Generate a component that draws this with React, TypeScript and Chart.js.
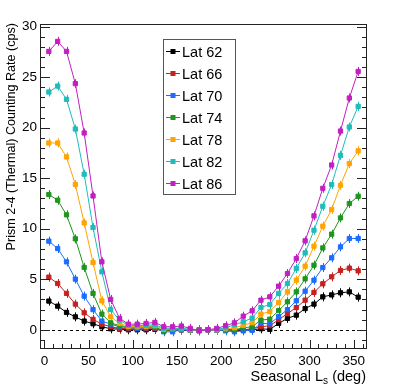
import React, { useEffect, useRef } from 'react';
import { Chart, registerables } from 'chart.js';

Chart.register(...registerables);

// Seasonal Ls bin centres (deg)
const LS = [5, 15, 25, 35, 45, 55, 65, 75, 85, 95, 105, 115, 125, 135, 145, 155, 165, 175,
  185, 195, 205, 215, 225, 235, 245, 255, 265, 275, 285, 295, 305, 315, 325, 335, 345, 355];

const LAT62 = [2.84, 2.34, 1.72, 1.28, 0.86, 0.6, 0.3, 0.1, 0.07, 0.0, 0.0, 0.0, 0.05, -0.05, 0.0, 0.0,
  -0.05, 0.0, 0.0, 0.0, 0.0, -0.05, 0.0, 0.0, 0.1, 0.04, 0.63, 1.13, 1.45, 2.1, 2.54, 3.26, 3.45, 3.66, 3.75, 3.23];
const LAT66 = [5.21, 4.58, 3.6, 2.54, 1.68, 1.03, 0.56, 0.3, 0.14, 0.1, 0.1, 0.1, 0.1, -0.1, -0.05, 0.0,
  0.0, -0.05, 0.0, 0.0, 0.0, 0.0, 0.0, 0.1, 0.3, 0.4, 1.0, 1.6, 2.2, 2.93, 3.7, 4.55, 5.24, 5.87, 6.1, 5.83];
const LAT70 = [8.77, 8.04, 6.72, 5.01, 3.33, 2.0, 0.86, 0.56, 0.3, 0.2, 0.15, 0.2, 0.2, -0.2, -0.2, 0.0,
  -0.05, -0.1, 0.0, -0.05, -0.1, -0.2, -0.1, -0.05, 0.63, 0.6, 1.3, 2.0, 2.87, 3.82, 4.91, 6.16, 7.12, 8.2, 9.03, 9.03];
const LAT74 = [13.38, 12.82, 11.37, 9.0, 6.17, 3.6, 1.55, 0.69, 0.4, 0.3, 0.25, 0.3, 0.3, -0.1, 0.05, 0.05,
  0.0, -0.05, 0.0, 0.0, 0.0, 0.0, 0.2, 0.3, 0.96, 1.05, 1.9, 2.77, 3.75, 5.04, 6.39, 8.1, 9.46, 11.07, 12.49, 13.21];
const LAT78 = [18.48, 18.48, 17.1, 14.37, 10.57, 6.66, 2.87, 1.28, 0.63, 0.35, 0.3, 0.35, 0.4, 0.05, 0.1, 0.1,
  0.0, -0.05, 0.0, 0.0, 0.1, 0.2, 0.45, 0.7, 1.55, 1.8, 2.7, 3.75, 4.91, 6.29, 8.27, 10.25, 11.9, 14.3, 16.44, 17.7];
const LAT82 = [23.52, 24.11, 22.8, 19.86, 15.39, 10.12, 5.73, 2.0, 0.96, 0.45, 0.4, 0.45, 0.5, 0.15, 0.15, 0.15,
  0.05, -0.05, 0.0, 0.05, 0.2, 0.5, 0.8, 1.15, 2.21, 2.5, 3.6, 4.58, 6.07, 7.61, 9.85, 12.22, 14.37, 17.26, 20.06, 22.1];
const LAT86 = [27.54, 28.53, 27.54, 24.35, 19.47, 13.24, 6.72, 3.0, 1.13, 0.56, 0.56, 0.63, 0.73, 0.3, 0.3, 0.37,
  0.14, -0.1, 0.0, 0.14, 0.4, 0.69, 1.35, 1.88, 2.93, 3.26, 4.32, 5.57, 7.05, 8.8, 11.27, 14.0, 16.3, 19.66, 22.93, 25.56];

const SERIES = [LAT62, LAT66, LAT70, LAT74, LAT78, LAT82, LAT86];
const LABELS = ['Lat 62', 'Lat 66', 'Lat 70', 'Lat 74', 'Lat 78', 'Lat 82', 'Lat 86'];
const COLORS = ['#000000', '#c62020', '#1c6cff', '#1f951f', '#ffa400', '#1fbcbc', '#c21fc2'];

const Y_TITLE = 'Prism 2-4 (Thermal) Counting Rate (cps)';
const X_TITLE_MAIN = 'Seasonal L';
const X_TITLE_SUB = 's';
const X_TITLE_END = ' (deg)';

const FONT = '"Liberation Sans", Arial, Helvetica, sans-serif';

const rootPlugin = {
  id: 'rootStyle',
  beforeDatasetsDraw(chart: any) {
    const { ctx, chartArea: a, scales } = chart;
    const y = scales.y;
    ctx.save();
    // dashed zero line
    ctx.strokeStyle = '#000';
    ctx.lineWidth = 1;
    ctx.setLineDash([3, 3]);
    const y0 = Math.round(y.getPixelForValue(0)) + 0.5;
    ctx.beginPath();
    ctx.moveTo(a.left, y0);
    ctx.lineTo(a.right, y0);
    ctx.stroke();
    ctx.setLineDash([]);
    // error whiskers
    chart.data.datasets.forEach((ds: any, i: number) => {
      const meta = chart.getDatasetMeta(i);
      ctx.strokeStyle = ds.borderColor;
      ctx.beginPath();
      meta.data.forEach((p: any) => {
        const px = Math.round(p.x) + 0.5;
        ctx.moveTo(px, p.y - 4.5);
        ctx.lineTo(px, p.y + 4.5);
      });
      ctx.stroke();
    });
    ctx.restore();
  },
  afterDraw(chart: any) {
    const { ctx, chartArea: a, scales } = chart;
    const x = scales.x;
    const y = scales.y;
    ctx.save();
    ctx.strokeStyle = '#222';
    ctx.lineWidth = 1;
    // frame
    ctx.strokeRect(a.left + 0.5, a.top + 0.5, a.right - a.left - 1, a.bottom - a.top - 1);
    // ticks
    ctx.beginPath();
    for (let v = Math.ceil(y.min); v <= Math.floor(y.max); v++) {
      const py = Math.round(y.getPixelForValue(v)) + 0.5;
      const len = v % 5 === 0 ? 10 : 5;
      ctx.moveTo(a.left, py);
      ctx.lineTo(a.left + len, py);
      ctx.moveTo(a.right, py);
      ctx.lineTo(a.right - len, py);
    }
    for (let v = Math.ceil(x.min / 10) * 10; v <= x.max; v += 10) {
      const px = Math.round(x.getPixelForValue(v)) + 0.5;
      const len = v % 50 === 0 ? 9 : 5;
      ctx.moveTo(px, a.bottom);
      ctx.lineTo(px, a.bottom - len);
    }
    ctx.stroke();

    // legend
    const bx = 163.5, by = 39.5, bw = 72, bh = 155;
    ctx.fillStyle = '#fff';
    ctx.fillRect(bx, by, bw, bh);
    ctx.strokeStyle = '#555';
    ctx.strokeRect(bx, by, bw, bh);
    ctx.font = `14.5px ${FONT}`;
    ctx.textBaseline = 'middle';
    ctx.textAlign = 'left';
    chart.data.datasets.forEach((ds: any, i: number) => {
      const cy = Math.round(50.7 + i * 22.1) + 0.5;
      ctx.strokeStyle = ds.borderColor;
      ctx.beginPath();
      ctx.moveTo(166, cy);
      ctx.lineTo(180, cy);
      ctx.stroke();
      ctx.fillStyle = ds.borderColor;
      ctx.fillRect(170.5, cy - 2.5, 5, 5);
      ctx.fillStyle = '#000';
      ctx.fillText(ds.label, 182, cy + 1);
    });

    // y title
    ctx.fillStyle = '#000';
    ctx.font = `12.6px ${FONT}`;
    ctx.save();
    ctx.translate(12, a.top - 1);
    ctx.rotate(-Math.PI / 2);
    ctx.textAlign = 'right';
    ctx.textBaseline = 'middle';
    ctx.fillText(Y_TITLE, 0, 0);
    ctx.restore();

    // x title with subscript
    const mainFont = `14.5px ${FONT}`;
    const subFont = `10px ${FONT}`;
    ctx.textBaseline = 'alphabetic';
    ctx.textAlign = 'left';
    ctx.font = mainFont;
    const w1 = ctx.measureText(X_TITLE_MAIN).width;
    const w3 = ctx.measureText(X_TITLE_END).width;
    ctx.font = subFont;
    const w2 = ctx.measureText(X_TITLE_SUB).width;
    const start = a.right - 1 - (w1 + w2 + w3);
    const base = 381;
    ctx.font = mainFont;
    ctx.fillText(X_TITLE_MAIN, start, base);
    ctx.font = subFont;
    ctx.fillText(X_TITLE_SUB, start + w1, base + 3);
    ctx.font = mainFont;
    ctx.fillText(X_TITLE_END, start + w1 + w2, base);
    ctx.restore();
  },
};

export default function App() {
  const canvasRef = useRef<HTMLCanvasElement | null>(null);

  useEffect(() => {
    const canvas = canvasRef.current;
    if (!canvas) return;
    const datasets = SERIES.map((vals, i) => ({
      label: LABELS[i],
      data: LS.map((l, j) => ({ x: l, y: vals[j] })),
      borderColor: COLORS[i],
      backgroundColor: COLORS[i],
      borderWidth: 1,
      pointStyle: 'rect',
      pointRadius: 3,
      pointBorderWidth: 1,
      pointBackgroundColor: COLORS[i],
      pointBorderColor: COLORS[i],
      tension: 0,
      order: SERIES.length - 1 - i,
    }));
    const chart = new Chart(canvas, {
      type: 'line',
      data: { datasets },
      options: {
        responsive: false,
        animation: false,
        devicePixelRatio: 1,
        layout: { padding: { top: 24, right: 32, left: 0, bottom: 0 } },
        plugins: { legend: { display: false }, tooltip: { enabled: false } },
        scales: {
          x: {
            type: 'linear',
            min: -5,
            max: 365,
            grid: { display: false, drawTicks: false },
            border: { display: false },
            ticks: {
              stepSize: 50,
              includeBounds: false,
              padding: 4,
              color: '#000',
              maxRotation: 0,
              font: { family: FONT, size: 13.5 },
            },
            afterFit: (s: any) => { s.height = 39; },
          },
          y: {
            type: 'linear',
            min: -1.9,
            max: 30.25,
            grid: { display: false, drawTicks: false },
            border: { display: false },
            ticks: {
              stepSize: 5,
              includeBounds: false,
              padding: 3,
              color: '#000',
              font: { family: FONT, size: 13.5 },
            },
            afterFit: (s: any) => { s.width = 40; },
          },
        },
      } as any,
      plugins: [rootPlugin],
    });
    return () => chart.destroy();
  }, []);

  return (
    <div style={{ position: 'fixed', left: 0, top: 0, width: 399, height: 388, background: '#fff' }}>
      <canvas ref={canvasRef} width={399} height={388} style={{ display: 'block' }} />
    </div>
  );
}
